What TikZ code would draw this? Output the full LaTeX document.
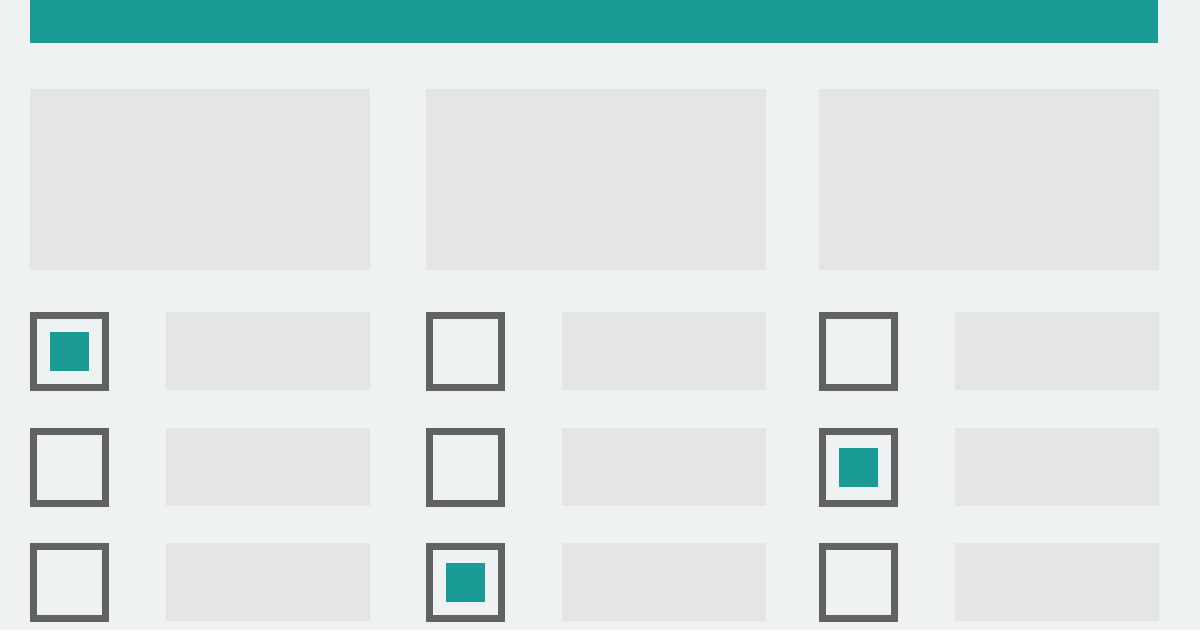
\documentclass[tikz,border=0pt]{standalone}
\usepackage{tikz}

\definecolor{pagebg}{HTML}{EFF2F3}
\definecolor{formteal}{HTML}{1A9B95}
\definecolor{fieldgray}{HTML}{E3E5E6}
\definecolor{boxgray}{HTML}{626262}

\begin{document}
\begin{tikzpicture}[x=0.02cm,y=-0.02cm,
    topbar/.style={fill=formteal,inner sep=0pt,minimum width=1128*0.02cm,minimum height=43*0.02cm},
    panel/.style={fill=fieldgray,inner sep=0pt,minimum width=340*0.02cm,minimum height=181*0.02cm},
    field/.style={fill=fieldgray,inner sep=0pt,minimum width=204*0.02cm,minimum height=78*0.02cm},
    checkbox/.style={draw=boxgray,line width=7*0.02cm,fill=pagebg,inner sep=0pt,minimum size=72*0.02cm},
    tick/.style={fill=formteal,inner sep=0pt,minimum size=39*0.02cm}]
    \fill[pagebg] (0,0) rectangle (1200,630);
    \useasboundingbox (0,0) rectangle (1200,630);
    \node[topbar] (bar) at (594,21.5) {};
    % three columns: a panel, then a checkbox and a field per row
    \foreach \c/\x in {1/30,2/426,3/819} {
        \node[panel] (panel\c) at (\x+170,179.5) {};
        \foreach \r/\y in {1/312,2/428,3/543} {
            \node[checkbox] (box\c\r) at (\x+39.5,\y+39.5) {};
            \node[field] (field\c\r) at (\x+238,\y+39) {};
        }
    }
    % the checked boxes
    \foreach \c/\r in {1/1,3/2,2/3}
        \node[tick] (tick\c\r) at (box\c\r) {};
\end{tikzpicture}
\end{document}
